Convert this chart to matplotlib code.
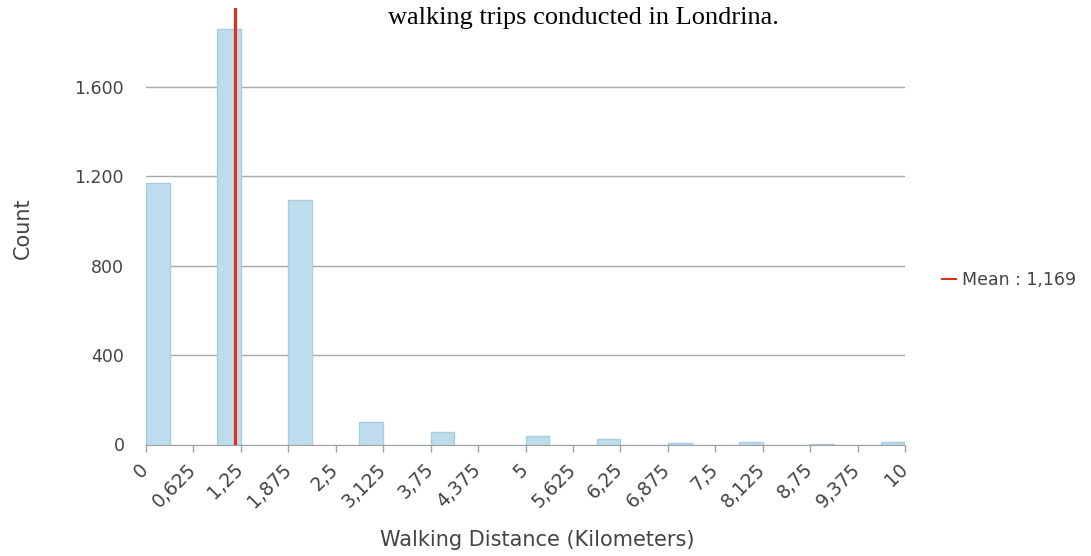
import numpy as np
import matplotlib
matplotlib.use("Agg")
import matplotlib.pyplot as plt
from matplotlib.transforms import ScaledTranslation

# walking distance (km) and number of trips
distance_km = [0, 1, 2, 3, 4, 5, 6, 7, 8, 9, 10]
trip_counts = [1171, 1859, 1095, 104, 59, 42, 25, 8, 15, 6, 12]
mean_km = 1.169

x_ticks = [0, 0.625, 1.25, 1.875, 2.5, 3.125, 3.75, 4.375, 5, 5.625,
           6.25, 6.875, 7.5, 8.125, 8.75, 9.375, 10]
x_labels = ['0', '0,625', '1,25', '1,875', '2,5', '3,125', '3,75', '4,375', '5',
            '5,625', '6,25', '6,875', '7,5', '8,125', '8,75', '9,375', '10']
y_ticks = [0, 400, 800, 1200, 1600]
y_labels = ['0', '400', '800', '1.200', '1.600']

plt.rcParams['font.family'] = ['DejaVu Sans']
text_col = '#444444'

fig = plt.figure(figsize=(10.91, 5.56), dpi=100)
ax = fig.add_axes([146 / 1091, 1 - 445 / 556, (905 - 146) / 1091, (445 - 8) / 556])

ax.hist(distance_km, bins=np.linspace(0, 10, 33), weights=trip_counts,
        color='#bedcec', edgecolor='#a6cde1', linewidth=1, zorder=2)
ax.axvline(mean_km, color='#e0301e', linewidth=2.3, zorder=3,
           label='Mean : 1,169')

ax.set_xlim(0, 10)
ax.set_ylim(0, 1953)
ax.set_yticks(y_ticks[1:])
ax.set_yticklabels(y_labels[1:])
ax.yaxis.grid(True, color='#a8a8a8', linewidth=1)
ax.set_axisbelow(True)
ax.set_xticks(x_ticks)
ax.set_xticklabels(x_labels, rotation=45, ha='right', rotation_mode='anchor')
ax.tick_params(axis='y', length=0, pad=16, labelsize=12.5, labelcolor=text_col)
ax.tick_params(axis='x', length=5, color='#a0a0a0', width=1, pad=5,
               labelsize=13.5, labelcolor=text_col)
shift = ScaledTranslation(-7 / 100, -1 / 100, fig.dpi_scale_trans)
for lab in ax.get_xticklabels():
    lab.set_transform(lab.get_transform() + shift)
for s in ['top', 'right', 'left']:
    ax.spines[s].set_visible(False)
ax.spines['bottom'].set_color('#a0a0a0')

# zero label sits at the baseline
fig.text(125 / 1091, 1 - 446 / 556, '0', ha='right', va='center',
         fontsize=12.5, color=text_col)

ax.set_xlabel('Walking Distance (Kilometers)', fontsize=15, color=text_col)
ax.xaxis.set_label_coords((537 - 146) / 759, -(540 - 445) / 437)
ax.xaxis.label.set_va('center')
fig.text(23 / 1091, 1 - 228 / 556, 'Count', rotation=90, ha='center', va='center',
         fontsize=15, color=text_col)

fig.text(583 / 1091, 1 - 24 / 556, 'walking trips conducted in Londrina.',
         ha='center', va='baseline', fontsize=19, family='Liberation Serif')

ax.legend(loc='center left', bbox_to_anchor=(926 / 1091, 1 - 280 / 556),
          bbox_transform=fig.transFigure, frameon=False, handlelength=0.8,
          handletextpad=0.4, fontsize=12.5, labelcolor=text_col)
for ln in ax.get_legend().get_lines():
    ln.set_linewidth(1.5)

fig.savefig('out.png', dpi=100)
